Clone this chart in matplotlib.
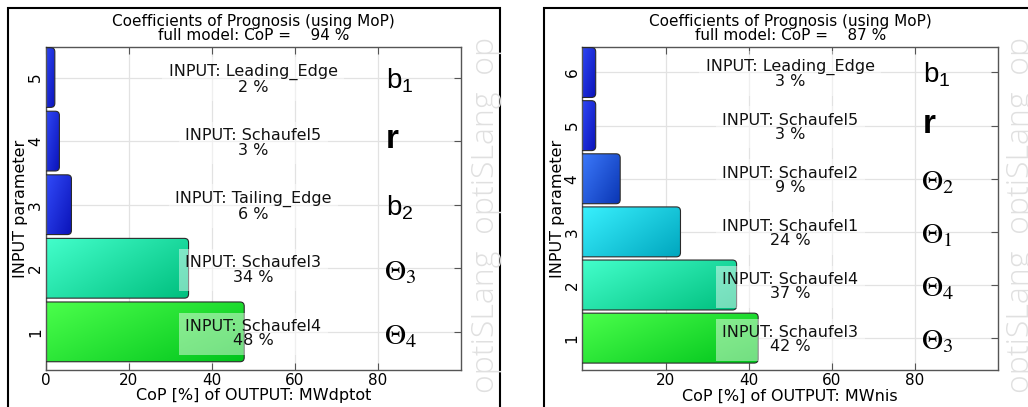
import numpy as np
import matplotlib
matplotlib.use("Agg")
import matplotlib.pyplot as plt
from matplotlib.patches import FancyBboxPatch, Rectangle
from matplotlib.colors import to_rgb

plt.rcParams['font.family'] = ['DejaVu Sans']
plt.rcParams['mathtext.fontset'] = 'custom'
plt.rcParams['mathtext.rm'] = 'Liberation Sans'
plt.rcParams['mathtext.it'] = 'Liberation Sans:italic'
plt.rcParams['mathtext.bf'] = 'Liberation Sans:bold'

# ---- data (parameter 1 at the bottom) ----
left_names = ['Schaufel4', 'Schaufel3', 'Tailing_Edge', 'Schaufel5', 'Leading_Edge']
left_cop = [47.8, 34.4, 6.2, 3.3, 2.2]
left_symbols = [r'$\Theta_4$', r'$\Theta_3$', r'$\mathrm{b}_2$', 'r', r'$\mathrm{b}_1$']
left_full = 94
left_output = 'MWdptot'
left_xticks = [0, 20, 40, 60, 80]

right_names = ['Schaufel3', 'Schaufel4', 'Schaufel1', 'Schaufel2', 'Schaufel5', 'Leading_Edge']
right_cop = [42.3, 37.1, 23.6, 9.1, 3.2, 3.2]
right_symbols = [r'$\Theta_3$', r'$\Theta_4$', r'$\Theta_1$', r'$\Theta_2$', 'r', r'$\mathrm{b}_1$']
right_full = 87
right_output = 'MWnis'
right_xticks = [20, 40, 60, 80]

# gradient colours (light top-left, dark bottom-right)
GREEN = ('#4cff4c', '#00c41c')
TEAL = ('#44ffcc', '#00bf7e')
CYAN = ('#3af2ff', '#00a6be')
MIDBLUE = ('#3f7dff', '#0a36b4')
BLUE = ('#3550ff', '#0a12b8')
left_colors = [GREEN, TEAL, BLUE, BLUE, BLUE]
right_colors = [GREEN, TEAL, CYAN, MIDBLUE, BLUE, BLUE]

W, H = 1028, 407
FS = 11.5
fig = plt.figure(figsize=(W / 100, H / 100), dpi=100)


def gradient(light, dark, n=64):
    x = np.linspace(0, 1, n)[None, :]
    y = np.linspace(0, 1, n)[:, None]
    t = ((1 - x) * 0.6 + y * 0.4)
    lt = np.array(to_rgb(light))
    dk = np.array(to_rgb(dark))
    return dk + (lt - dk) * t[..., None]


def draw_panel(rect, names, cop, symbols, colors, full, output, xticks):
    ax = fig.add_axes(rect)
    n = len(names)
    ypos = np.arange(1, n + 1)
    xlim = (0, 100)
    ylim = (0.4, n + 0.48)
    ax.set_xlim(xlim)
    ax.set_ylim(ylim)

    # aspect of one data unit in y vs x (for rounded corners)
    ax_w = rect[2] * W
    ax_h = rect[3] * H
    asp = ((ylim[1] - ylim[0]) / ax_h) / ((xlim[1] - xlim[0]) / ax_w)

    bars = ax.barh(ypos, cop, height=0.94, color='none', edgecolor='none')
    rs = 1.0
    for bar, name, val, sym, (light, dark) in zip(bars, names, cop, symbols, colors):
        x0, y0 = bar.get_x(), bar.get_y()
        w, h = bar.get_width(), bar.get_height()
        patch = FancyBboxPatch((x0 - rs, y0), w + rs, h,
                               boxstyle=f"round,pad=0,rounding_size={rs}",
                               mutation_aspect=asp, facecolor='none',
                               edgecolor='#2a2a2a', linewidth=0.8, zorder=3)
        ax.add_patch(patch)
        img = ax.imshow(gradient(light, dark), extent=[x0 - rs, x0 + w, y0, y0 + h],
                        origin='lower', aspect='auto', zorder=2, interpolation='bilinear')
        img.set_clip_path(patch)

        label = f'INPUT: {name}\n{round(val)} %'
        yc = y0 + h / 2 - 0.03
        # translucent highlight where the label sits on the bar
        hl = ax.text(50, yc, label, ha='center', va='center', fontsize=FS,
                     linespacing=0.95, color='none', zorder=4,
                     bbox=dict(boxstyle='square,pad=0.4', facecolor='white',
                               edgecolor='none', alpha=0.45))
        hl.set_clip_path(patch)
        ax.text(50, yc, label, ha='center', va='center', fontsize=FS,
                linespacing=0.95, color='#111111', zorder=5)

        ys = y0 + h / 2
        if sym == 'r':
            ax.text(82, ys + 0.02, sym, ha='left', va='center', fontsize=24,
                    fontweight='bold', family='Liberation Sans', zorder=5)
        elif 'Theta' in sym:
            ax.text(81.5, ys - 0.06, sym, ha='left', va='center', fontsize=21,
                    math_fontfamily='stix', zorder=5)
        else:
            ax.text(82, ys - 0.05, sym, ha='left', va='center', fontsize=20, zorder=5)

    ax.set_xticks(xticks)
    ax.set_yticks(ypos)
    ax.set_yticklabels([str(v) for v in ypos], rotation=90, va='center')
    ax.tick_params(direction='in', length=5, width=0.8, color='#555555',
                   top=True, right=True, labelsize=11, pad=2)
    ax.grid(True, color='#e2e2e2', linewidth=0.9, zorder=0)
    ax.set_axisbelow(True)
    for s in ax.spines.values():
        s.set_color('#555555')
        s.set_linewidth(1.0)

    ax.set_title(f'Coefficients of Prognosis (using MoP)\nfull model: CoP =    {full} %',
                 fontsize=11, linespacing=0.95, pad=5)
    ax.set_xlabel(f'CoP [%] of OUTPUT: {output}', fontsize=FS, labelpad=0.5)
    ax.set_ylabel('INPUT parameter', fontsize=FS, labelpad=0)
    return ax


draw_panel([45.7 / W, 37 / H, 415.3 / W, 323 / H],
           left_names, left_cop, left_symbols, left_colors,
           left_full, left_output, left_xticks)
draw_panel([582.4 / W, 37 / H, 415.6 / W, 323 / H],
           right_names, right_cop, right_symbols, right_colors,
           right_full, right_output, right_xticks)

# panel frames
for x0, x1 in [(7.5, 500), (544, 1040)]:
    fig.add_artist(Rectangle((x0 / W, -0.05), (x1 - x0) / W, 1.05 - 7.5 / H,
                             transform=fig.transFigure, fill=False,
                             edgecolor='black', linewidth=1.5))

# watermark
for xw in [486, 1021]:
    fig.text(xw / W, 14 / H, 'optiSLang  optiSLang  op', rotation=90,
             ha='center', va='bottom', fontsize=23, color='#e0e0e0',
             family='Open Sans', fontweight='light')

fig.savefig('out.png', dpi=100)
